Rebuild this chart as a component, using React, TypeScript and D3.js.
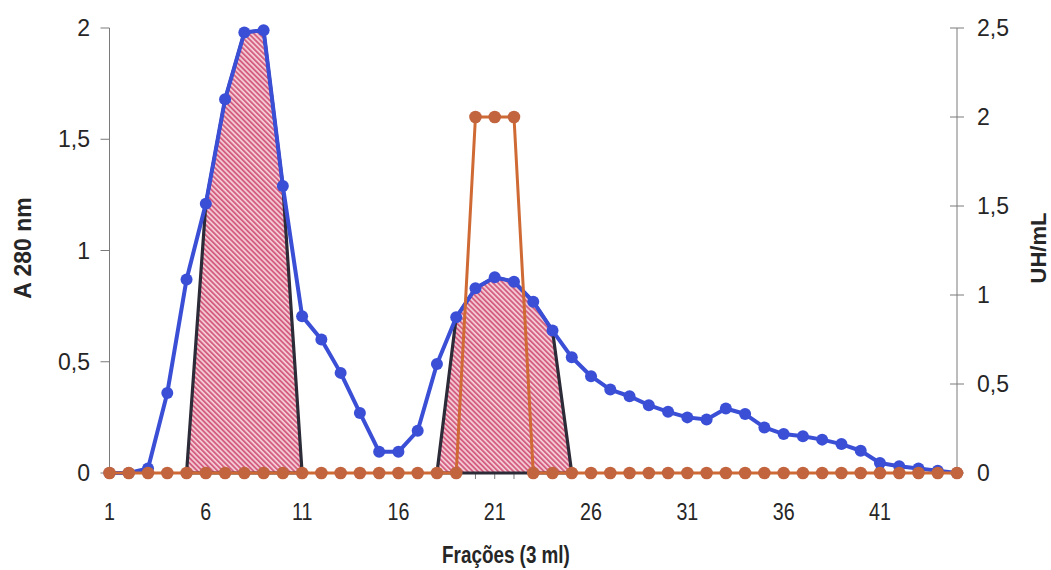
import { useRef, useEffect } from 'react';
import * as d3 from 'd3';

// Frações 1..45
const fractions = [
  1, 2, 3, 4, 5, 6, 7, 8, 9, 10, 11, 12, 13, 14, 15, 16, 17, 18, 19, 20, 21, 22, 23,
  24, 25, 26, 27, 28, 29, 30, 31, 32, 33, 34, 35, 36, 37, 38, 39, 40, 41, 42, 43, 44, 45,
];

// A 280 nm (eixo esquerdo)
const absorbance = [
  0, 0, 0.02, 0.36, 0.87, 1.21, 1.68, 1.98, 1.99, 1.29, 0.705, 0.6, 0.45, 0.27, 0.095,
  0.095, 0.19, 0.49, 0.7, 0.83, 0.88, 0.86, 0.77, 0.64, 0.52, 0.435, 0.375, 0.345, 0.305,
  0.275, 0.25, 0.24, 0.29, 0.265, 0.205, 0.175, 0.165, 0.15, 0.13, 0.1, 0.045, 0.03, 0.02,
  0.01, 0,
];

// UH/mL (eixo direito)
const activity = [
  0, 0, 0, 0, 0, 0, 0, 0, 0, 0, 0, 0, 0, 0, 0, 0, 0, 0, 0, 2, 2, 2, 0, 0, 0, 0, 0, 0, 0,
  0, 0, 0, 0, 0, 0, 0, 0, 0, 0, 0, 0, 0, 0, 0, 0,
];

// pooled peaks (hatched areas)
const pool1Fractions = [5, 6, 7, 8, 9, 10, 11];
const pool1Values = [0, 1.21, 1.68, 1.98, 1.99, 1.29, 0];
const pool2Fractions = [18, 19, 20, 21, 22, 23, 24, 25];
const pool2Values = [0, 0.7, 0.83, 0.88, 0.86, 0.77, 0.64, 0];

const xTickLabels = [1, 6, 11, 16, 21, 26, 31, 36, 41];
const leftTicks = [0, 0.5, 1, 1.5, 2];
const rightTicks = [0, 0.5, 1, 1.5, 2, 2.5];

const WIDTH = 1051;
const HEIGHT = 570;

export default function App() {
  const svgRef = useRef<SVGSVGElement>(null);

  useEffect(() => {
    if (!svgRef.current) return;
    const svg = d3.select(svgRef.current);
    svg.selectAll('*').remove();

    const left = 109.5;
    const right = 957;
    const top = 28;
    const bottom = 473;

    const x = d3.scaleLinear().domain([1, 45]).range([left, right]);
    const yL = d3.scaleLinear().domain([0, 2]).range([bottom, top]);
    const yR = d3.scaleLinear().domain([0, 2.5]).range([bottom, top]);
    const fmt = (v: number) => String(v).replace('.', ',');

    const font = "'Liberation Sans', Arial, sans-serif";
    const textColor = '#262626';
    const squeeze = 0.82; // the scan is horizontally compressed

    // hatch pattern
    const defs = svg.append('defs');
    const pat = defs.append('pattern')
      .attr('id', 'hatch')
      .attr('patternUnits', 'userSpaceOnUse')
      .attr('width', 3.6)
      .attr('height', 3.6)
      .attr('patternTransform', 'rotate(-45)');
    pat.append('rect').attr('width', 3.6).attr('height', 3.6).attr('fill', '#f5cfd9');
    pat.append('rect').attr('width', 1.9).attr('height', 3.6).attr('fill', '#d45f80');

    // Axes lines
    svg.append('line')
      .attr('x1', left).attr('x2', left).attr('y1', top).attr('y2', bottom)
      .attr('stroke', '#7a7a7a').attr('stroke-width', 1);
    svg.append('line')
      .attr('x1', right).attr('x2', right).attr('y1', top).attr('y2', bottom)
      .attr('stroke', '#7a7a7a').attr('stroke-width', 1);
    svg.append('line')
      .attr('x1', left).attr('x2', right).attr('y1', bottom).attr('y2', bottom)
      .attr('stroke', '#7a7a7a').attr('stroke-width', 1);

    // left ticks + labels
    const lg = svg.append('g');
    lg.selectAll('line').data(leftTicks).enter().append('line')
      .attr('x1', left - 9).attr('x2', left)
      .attr('y1', d => yL(d)).attr('y2', d => yL(d))
      .attr('stroke', '#7a7a7a');
    lg.selectAll('text').data(leftTicks).enter().append('text')
      .attr('x', 90).attr('y', d => yL(d)).attr('dy', '0.35em')
      .attr('text-anchor', 'end')
      .attr('font-family', font).attr('font-size', 23).attr('fill', textColor)
      .text(d => fmt(d));

    // right ticks + labels
    const rg = svg.append('g');
    rg.selectAll('line').data(rightTicks).enter().append('line')
      .attr('x1', right - 7).attr('x2', right + 7)
      .attr('y1', d => yR(d)).attr('y2', d => yR(d))
      .attr('stroke', '#7a7a7a');
    rg.selectAll('text').data(rightTicks).enter().append('text')
      .attr('x', 977).attr('y', d => yR(d)).attr('dy', '0.35em')
      .attr('font-family', font).attr('font-size', 23).attr('fill', textColor)
      .text(d => fmt(d));

    // x ticks + labels
    const xg = svg.append('g');
    xg.selectAll('line').data(fractions).enter().append('line')
      .attr('x1', d => x(d)).attr('x2', d => x(d))
      .attr('y1', bottom).attr('y2', bottom + 6)
      .attr('stroke', '#7a7a7a');
    xg.selectAll('text').data(xTickLabels).enter().append('text')
      .attr('transform', d => `translate(${x(d)},512) scale(${squeeze},1)`)
      .attr('dy', '0.35em')
      .attr('text-anchor', 'middle')
      .attr('font-family', font).attr('font-size', 24).attr('fill', textColor)
      .text(d => d);

    // axis titles
    svg.append('text')
      .attr('transform', `translate(31,248) rotate(-90)`)
      .attr('text-anchor', 'middle')
      .attr('font-family', font).attr('font-weight', 'bold')
      .attr('font-size', 23).attr('fill', textColor)
      .text('A 280 nm');
    svg.append('text')
      .attr('transform', `translate(1046,248) rotate(-90)`)
      .attr('text-anchor', 'middle')
      .attr('font-family', font).attr('font-weight', 'bold')
      .attr('font-size', 22).attr('fill', textColor)
      .text('UH/mL');
    svg.append('text')
      .attr('transform', `translate(506,563) scale(${squeeze},1)`)
      .attr('text-anchor', 'middle')
      .attr('font-family', font).attr('font-weight', 'bold')
      .attr('font-size', 23).attr('fill', textColor)
      .text('Frações (3 ml)');

    // hatched pooled areas
    const area = d3.area<[number, number]>()
      .x(d => x(d[0]))
      .y0(yL(0))
      .y1(d => yL(d[1]));
    const pools: [number, number][][] = [
      pool1Fractions.map((f, i) => [f, pool1Values[i]] as [number, number]),
      pool2Fractions.map((f, i) => [f, pool2Values[i]] as [number, number]),
    ];
    svg.selectAll('.pool').data(pools).enter().append('path')
      .attr('class', 'pool')
      .attr('d', d => area(d)!)
      .attr('fill', 'url(#hatch)')
      .attr('stroke', '#2c2b38')
      .attr('stroke-width', 3.2)
      .attr('stroke-linejoin', 'round');

    // blue series (A 280)
    const blueData = fractions.map((f, i) => [f, absorbance[i]] as [number, number]);
    const blueLine = d3.line<[number, number]>().x(d => x(d[0])).y(d => yL(d[1]));
    svg.append('path')
      .attr('d', blueLine(blueData)!)
      .attr('fill', 'none').attr('stroke', '#3a4fd6').attr('stroke-width', 4)
      .attr('stroke-linejoin', 'round');
    svg.selectAll('.bdot').data(blueData).enter().append('circle')
      .attr('class', 'bdot')
      .attr('cx', d => x(d[0])).attr('cy', d => yL(d[1])).attr('r', 6)
      .attr('fill', '#3a4fd6');

    // orange series (UH/mL)
    const orangeData = fractions.map((f, i) => [f, activity[i]] as [number, number]);
    const orangeLine = d3.line<[number, number]>().x(d => x(d[0])).y(d => yR(d[1]));
    svg.append('path')
      .attr('d', orangeLine(orangeData)!)
      .attr('fill', 'none').attr('stroke', '#cf6a35').attr('stroke-width', 3)
      .attr('stroke-linejoin', 'round');
    svg.selectAll('.odot').data(orangeData).enter().append('circle')
      .attr('class', 'odot')
      .attr('cx', d => x(d[0])).attr('cy', d => yR(d[1])).attr('r', 6.3)
      .attr('fill', '#c2653f');
  }, []);

  return (
    <svg
      ref={svgRef}
      width={WIDTH}
      height={HEIGHT}
      style={{ position: 'absolute', left: 0, top: 0, background: '#fff' }}
    />
  );
}
